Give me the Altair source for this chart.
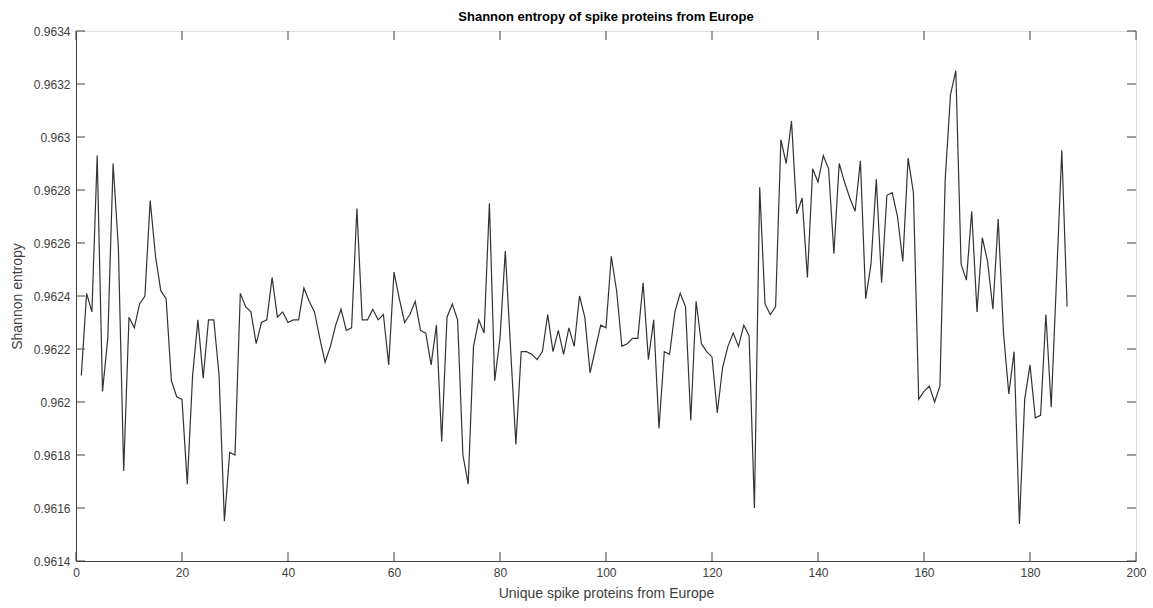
import altair as alt
import pandas as pd

# x positions (protein index)
protein_index = list(range(1, 188))

# Shannon entropy values
entropy = [
    0.96210, 0.96241, 0.96234, 0.96293, 0.96204, 0.96224, 0.96290, 0.96258, 0.96174, 0.96232,
    0.96228, 0.96237, 0.96240, 0.96276, 0.96255, 0.96242, 0.96239, 0.96208, 0.96202, 0.96201,
    0.96169, 0.96210, 0.96231, 0.96209, 0.96231, 0.96231, 0.96210, 0.96155, 0.96181, 0.96180,
    0.96241, 0.96236, 0.96234, 0.96222, 0.96230, 0.96231, 0.96247, 0.96232, 0.96234, 0.96230,
    0.96231, 0.96231, 0.96243, 0.96238, 0.96234, 0.96224, 0.96215, 0.96221, 0.96229, 0.96235,
    0.96227, 0.96228, 0.96273, 0.96231, 0.96231, 0.96235, 0.96231, 0.96233, 0.96214, 0.96249,
    0.96239, 0.96230, 0.96233, 0.96238, 0.96227, 0.96226, 0.96214, 0.96229, 0.96185, 0.96232,
    0.96237, 0.96231, 0.96180, 0.96169, 0.96221, 0.96231, 0.96226, 0.96275, 0.96208, 0.96224,
    0.96257, 0.96220, 0.96184, 0.96219, 0.96219, 0.96218, 0.96216, 0.96219, 0.96233, 0.96219,
    0.96227, 0.96218, 0.96228, 0.96221, 0.96240, 0.96232, 0.96211, 0.96220, 0.96229, 0.96228,
    0.96255, 0.96242, 0.96221, 0.96222, 0.96224, 0.96224, 0.96245, 0.96216, 0.96231, 0.96190,
    0.96219, 0.96218, 0.96234, 0.96241, 0.96236, 0.96193, 0.96238, 0.96222, 0.96219, 0.96217,
    0.96196, 0.96213, 0.96221, 0.96226, 0.96221, 0.96229, 0.96225, 0.96160, 0.96281, 0.96237,
    0.96233, 0.96236, 0.96299, 0.96290, 0.96306, 0.96271, 0.96277, 0.96247, 0.96288, 0.96283,
    0.96293, 0.96288, 0.96256, 0.96290, 0.96283, 0.96277, 0.96272, 0.96291, 0.96239, 0.96252,
    0.96284, 0.96245, 0.96278, 0.96279, 0.96270, 0.96253, 0.96292, 0.96279, 0.96201, 0.96204,
    0.96206, 0.96200, 0.96206, 0.96284, 0.96316, 0.96325, 0.96252, 0.96246, 0.96272, 0.96234,
    0.96262, 0.96253, 0.96235, 0.96269, 0.96226, 0.96203, 0.96219, 0.96154, 0.96201, 0.96214,
    0.96194, 0.96195, 0.96233, 0.96198, 0.96246, 0.96295, 0.96236,
]

x_ticks = [0, 20, 40, 60, 80, 100, 120, 140, 160, 180, 200]
y_ticks = [0.9614, 0.9616, 0.9618, 0.962, 0.9622, 0.9624, 0.9626, 0.9628, 0.963, 0.9632, 0.9634]

W, H = 1060, 530
AX = "#404040"
FONT = "Liberation Sans"
X_TITLE = "Unique spike proteins from Europe"
Y_TITLE = "Shannon entropy"

df = pd.DataFrame({"x": protein_index, "y": entropy})
xt = pd.DataFrame({"x": x_ticks})
yt = pd.DataFrame({"y": y_ticks})

xscale = alt.Scale(domain=[0, 200], nice=False, zero=False)
yscale = alt.Scale(domain=[0.9614, 0.9634], nice=False, zero=False)

xaxis = alt.Axis(values=x_ticks, tickSize=0, labelPadding=6, grid=False, labelFlush=False,
                 domainColor=AX, labelColor=AX, titleColor=AX,
                 labelFontSize=12, titleFontSize=14, titleFontWeight="normal",
                 labelFont=FONT, titleFont=FONT, titlePadding=8)
yaxis = alt.Axis(values=y_ticks, tickSize=0, labelPadding=6, grid=False, labelFlush=False,
                 labelExpr="format(datum.value, '.4~f')",
                 domainColor=AX, labelColor=AX, titleColor=AX,
                 labelFontSize=12, titleFontSize=14, titleFontWeight="normal",
                 labelFont=FONT, titleFont=FONT, titlePadding=9)

line = alt.Chart(df).mark_line(color="#333333", strokeWidth=1.2).encode(
    x=alt.X("x:Q", scale=xscale, title=X_TITLE, axis=xaxis),
    y=alt.Y("y:Q", scale=yscale, title=Y_TITLE, axis=yaxis),
)

tick_style = dict(color=AX, strokeWidth=1)

bottom_ticks = alt.Chart(xt).mark_rule(**tick_style).encode(
    x=alt.X("x:Q", scale=xscale, axis=xaxis, title=X_TITLE),
    y=alt.value(H), y2=alt.value(H - 9))
top_ticks = alt.Chart(xt).mark_rule(**tick_style).encode(
    x=alt.X("x:Q", scale=xscale, axis=xaxis, title=X_TITLE),
    y=alt.value(0), y2=alt.value(9))
left_ticks = alt.Chart(yt).mark_rule(**tick_style).encode(
    y=alt.Y("y:Q", scale=yscale, axis=yaxis, title=Y_TITLE),
    x=alt.value(0), x2=alt.value(9))
right_ticks = alt.Chart(yt).mark_rule(**tick_style).encode(
    y=alt.Y("y:Q", scale=yscale, axis=yaxis, title=Y_TITLE),
    x=alt.value(W), x2=alt.value(W - 9))

chart = alt.layer(line, bottom_ticks, top_ticks, left_ticks, right_ticks).properties(
    width=W, height=H,
    title=alt.TitleParams("Shannon entropy of spike proteins from Europe",
                          font=FONT, fontSize=13, fontWeight="bold", color="#000000",
                          anchor="middle", frame="group", offset=1),
    autosize=alt.AutoSizeParams(type="none"),
    padding={"left": 76, "top": 31, "right": 17, "bottom": 47},
).configure_view(stroke=AX, strokeWidth=1).configure(background="white")

chart.save("out.html", embed_options={"renderer": "svg", "actions": False})
